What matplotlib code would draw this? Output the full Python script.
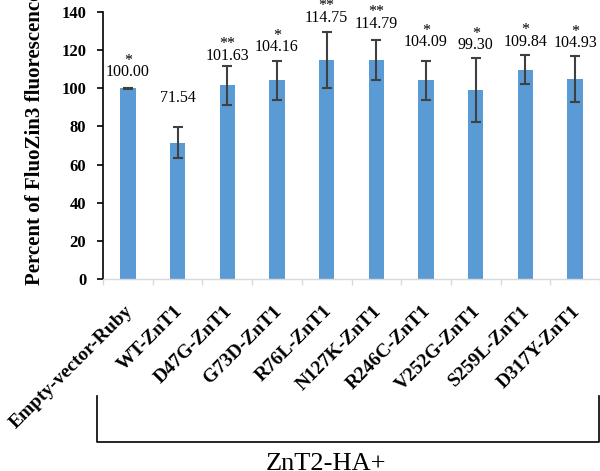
import matplotlib
matplotlib.use('Agg')
import matplotlib.pyplot as plt
from matplotlib.lines import Line2D
import matplotlib.transforms as mtransforms
import numpy as np

# data
groups = ['Empty-vector-Ruby', 'WT-ZnT1', 'D47G-ZnT1', 'G73D-ZnT1', 'R76L-ZnT1',
          'N127K-ZnT1', 'R246C-ZnT1', 'V252G-ZnT1', 'S259L-ZnT1', 'D317Y-ZnT1']
values = [100.00, 71.54, 101.63, 104.16, 114.75, 114.79, 104.09, 99.30, 109.84, 104.93]
errors = [0.3, 8.3, 10.3, 10.2, 14.8, 10.7, 10.2, 16.8, 7.6, 12.2]
stars = ['*', '', '**', '*', '**', '**', '*', '*', '*', '*']

# gap between error bar top and value label (data units)
label_gap = [8, 15, 5.2, 7.3, 7.5, 8.4, 10, 6.5, 7, 6.4]

plt.rcParams['font.family'] = ['Liberation Serif', 'DejaVu Serif']

W, H = 600, 471
fig = plt.figure(figsize=(W / 100, H / 100), dpi=100)
ax = fig.add_axes([103 / W, 1 - 279 / H, 497 / W, 267 / H])

x = np.arange(len(groups))
ax.bar(x, values, width=0.31, color='#5B9BD5', zorder=2)
ax.errorbar(x, values, yerr=errors, fmt='none', ecolor='#404040',
            elinewidth=1.5, capsize=3.6, capthick=1.5, zorder=3)

for i in range(len(groups)):
    ly = values[i] + errors[i] + label_gap[i]
    ax.text(x[i], ly, '%.2f' % values[i], ha='center', va='center',
            fontsize=11.5, clip_on=False)
    if stars[i]:
        ax.text(x[i], ly + 6, stars[i], ha='center', va='center',
                fontsize=11.5, clip_on=False)

ax.set_xlim(-0.5, len(groups) - 0.5)
ax.set_ylim(0, 140)
ax.set_yticks(range(0, 141, 20))
for lab in ax.get_yticklabels():
    lab.set_fontweight('bold')
    lab.set_fontsize(12)
ax.tick_params(axis='y', length=4, width=1.2, color='black', pad=8)

ax.set_xticks(x)
ax.set_xticklabels(groups, rotation=45, ha='right', rotation_mode='anchor',
                   fontweight='bold', fontsize=14)
ax.tick_params(axis='x', which='major', length=0, pad=17)
shift = mtransforms.ScaledTranslation(-4 / 100, 0, fig.dpi_scale_trans)
for lab in ax.get_xticklabels():
    lab.set_transform(lab.get_transform() + shift)
ax.set_xticks(np.arange(-0.5, len(groups), 1), minor=True)
ax.tick_params(axis='x', which='minor', length=4, color='#D9D9D9', width=1)

ax.spines['top'].set_visible(False)
ax.spines['right'].set_visible(False)
ax.spines['left'].set_color('black')
ax.spines['left'].set_linewidth(1.2)
ax.spines['bottom'].set_color('#D9D9D9')
ax.spines['bottom'].set_linewidth(1)

fig.text(35 / W, 1 - 138 / H, 'Percent of FluoZin3 fluorescence', rotation=90,
         ha='center', va='center', fontweight='bold', fontsize=15)

# bracket under the ZnT1 variants
bx = [97 / W, 97 / W, 599 / W, 599 / W]
by = [1 - 396 / H, 1 - 442 / H, 1 - 442 / H, 1 - 396 / H]
fig.add_artist(Line2D(bx, by, color='black', lw=1.2, transform=fig.transFigure))
fig.text(326 / W, 1.5 / H, 'ZnT2-HA+', ha='center', va='baseline', fontsize=19)

fig.savefig('out.png', dpi=100)
